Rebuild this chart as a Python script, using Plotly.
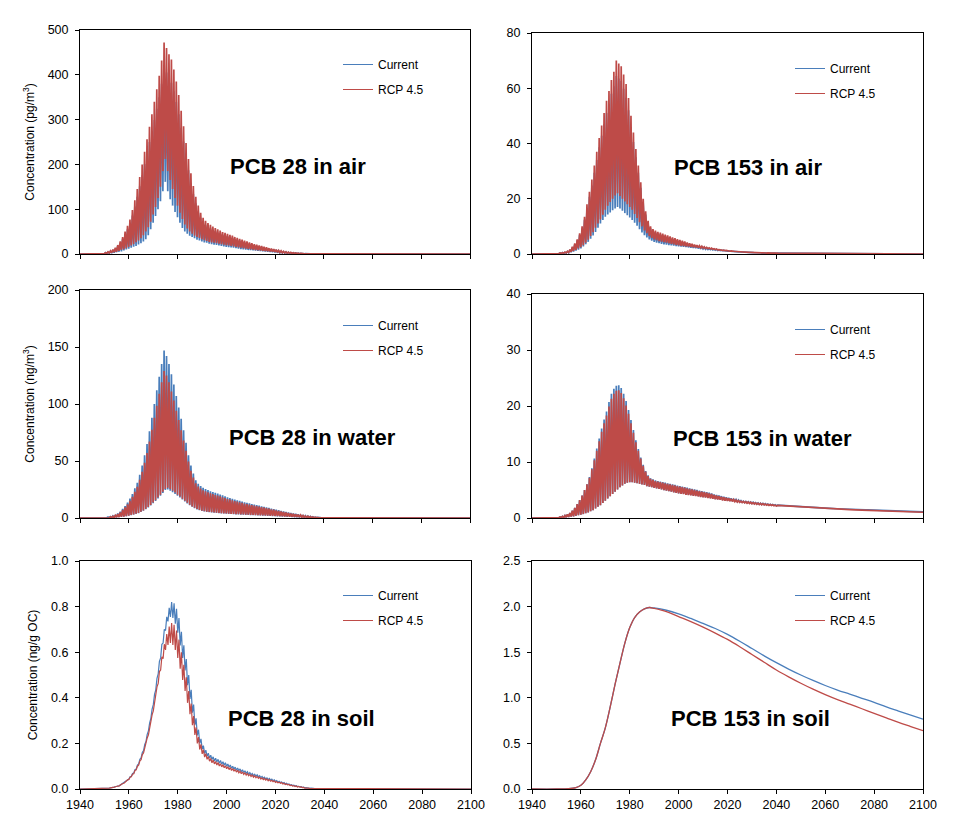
import plotly.graph_objects as go

W, H = 954, 832
BLUE = "#4A7EBB"
RED = "#BE4B48"
FONT = "Liberation Sans, Arial, sans-serif"

X_START, X_END = 1940, 2100
X_TICK_STEP = 20
BASELINE = 0.0
SERIES_NAMES = ["Current", "RCP 4.5"]

# ---------------- PCB 28 in air (pg/m3): yearly summer peaks (HI) and winter troughs (LO)
P28_AIR_START = 1948
P28_AIR_CUR_HI = [1, 2, 3, 4, 6, 9, 12, 18, 25, 34,
                  44, 55, 68, 86, 106, 128, 151, 176, 201, 225,
                  250, 275, 299, 324, 350, 380, 415, 405, 392, 382,
                  363, 339, 312, 282, 251, 218, 187, 158, 134, 113,
                  95, 81, 71, 65, 61, 57, 54, 51, 48, 46,
                  43, 41, 40, 38, 36, 33, 32, 30, 28, 26,
                  25, 23, 21, 19, 18, 17, 16, 14, 13, 11,
                  11, 10, 9, 7, 6, 5, 4.4, 3.5, 3, 2.6,
                  2.2, 1.8, 1.3, 0.9, 0.7, 0.4, 0.3, 0.2, 0.1]
P28_AIR_CUR_LO = [0.3, 0.5, 0.8, 1, 1.5, 2, 3, 4, 5, 6,
                  8, 10, 12, 14, 16, 18, 21, 24, 28, 33,
                  42, 55, 70, 85, 100, 118, 140, 161, 140, 122,
                  108, 94, 82, 70, 58, 50, 45, 41, 38, 35,
                  32, 30, 28, 26, 25, 23, 22, 21, 20, 19,
                  18, 17, 16, 15.5, 15, 14, 13, 12, 11, 10.5,
                  10, 9, 8.5, 8, 7.5, 7, 6.5, 6, 5.5, 5,
                  4.5, 4, 3.5, 3, 2.6, 2.2, 1.8, 1.5, 1.2, 1,
                  0.9, 0.7, 0.5, 0.4, 0.3, 0.2, 0.15, 0.1, 0.05]
P28_AIR_RCP_HI = [1, 2, 3, 5, 7, 10, 14, 20, 28, 38,
                  50, 63, 77, 98, 120, 145, 172, 200, 228, 256,
                  284, 312, 340, 368, 398, 432, 472, 460, 446, 434,
                  412, 385, 355, 320, 285, 248, 212, 180, 152, 128,
                  108, 92, 81, 74, 69, 65, 61, 58, 55, 52,
                  49, 47, 45, 43, 41, 38, 36, 34, 32, 30,
                  28, 26, 24, 22, 21, 19, 18, 16, 15, 13,
                  12, 11, 10, 8, 7, 6, 5, 4, 3.5, 3,
                  2.5, 2, 1.5, 1, 0.8, 0.5, 0.3, 0.2, 0.1]
P28_AIR_RCP_LO = [0.5, 0.8, 1, 1.5, 2, 3, 4, 5, 7, 9,
                  11, 13, 16, 19, 22, 26, 30, 35, 42, 50,
                  60, 72, 88, 105, 125, 150, 185, 212, 185, 165,
                  145, 125, 108, 92, 78, 66, 57, 50, 45, 41,
                  38, 36, 33, 31, 29, 27, 26, 25, 24, 23,
                  22, 21, 20, 19, 18, 17, 16, 15, 14, 13,
                  12, 11.5, 10.5, 10, 9, 8.5, 8, 7, 6.5, 6,
                  5.5, 5, 4.5, 3.8, 3.2, 2.7, 2.2, 1.8, 1.5, 1.3,
                  1.1, 0.9, 0.7, 0.5, 0.4, 0.3, 0.2, 0.1, 0.05]

# ---------------- PCB 153 in air (pg/m3)
P153_AIR_START = 1950
P153_AIR_CUR_HI = [0.3, 0.4, 0.5, 0.6, 0.9, 1.5, 2.4, 3.5, 4.9, 6.9,
                   9.2, 12.4, 16.5, 20.7, 24.8, 29.4, 34, 38.6, 42.8, 47,
                   51, 54.3, 58, 60.7, 64.4, 63.5, 62.6, 59.8, 56.6, 52,
                   46, 40.5, 35, 29.4, 24, 18.4, 14.3, 11, 9.2, 8.3,
                   7.8, 7.4, 7.1, 6.8, 6.5, 6.2, 5.9, 5.5, 5.3, 5,
                   4.7, 4.4, 4.1, 3.9, 3.6, 3.4, 3.1, 2.9, 2.8, 2.6,
                   2.4, 2.2, 2, 1.9, 1.8, 1.7, 1.5, 1.4, 1.3, 1.2,
                   1.1, 1, 0.95, 0.85, 0.8, 0.75, 0.7, 0.65, 0.6, 0.55,
                   0.5, 0.5, 0.45, 0.45, 0.4, 0.4, 0.35, 0.35, 0.3, 0.3,
                   0.3]
P153_AIR_CUR_LO = [0.1, 0.1, 0.15, 0.2, 0.3, 0.45, 0.65, 0.9, 1.2, 1.6,
                   2, 2.7, 3.5, 4.4, 5.5, 6.7, 8, 9.5, 11, 12.3,
                   13.5, 14.3, 15, 15.8, 16.5, 17, 16.5, 15.7, 14.8, 14,
                   13.2, 12.3, 11.3, 10.2, 9, 7.8, 6.8, 6, 5.3, 4.8,
                   4.4, 4.1, 3.9, 3.7, 3.5, 3.4, 3.2, 3.1, 3, 2.9,
                   2.8, 2.7, 2.6, 2.5, 2.4, 2.3, 2.2, 2.1, 2, 1.9,
                   1.8, 1.7, 1.65, 1.55, 1.5, 1.4, 1.3, 1.25, 1.2, 1.1,
                   1, 0.95, 0.9, 0.85, 0.8, 0.75, 0.7, 0.65, 0.6, 0.55,
                   0.5, 0.45, 0.4, 0.4, 0.35, 0.35, 0.3, 0.3, 0.3, 0.25,
                   0.25]
P153_AIR_RCP_HI = [0.3, 0.4, 0.5, 0.7, 1, 1.6, 2.6, 3.8, 5.3, 7.5,
                   10, 13.5, 18, 22.5, 27, 32, 37, 42, 46.5, 51,
                   55.5, 59, 63, 66, 70, 69, 68, 65, 61.5, 56.5,
                   50, 44, 38, 32, 26, 20, 15.5, 12, 10, 9,
                   8.5, 8, 7.7, 7.4, 7, 6.7, 6.4, 6, 5.7, 5.4,
                   5.1, 4.8, 4.5, 4.2, 3.9, 3.7, 3.4, 3.2, 3, 2.8,
                   2.6, 2.4, 2.2, 2.1, 1.9, 1.8, 1.6, 1.5, 1.4, 1.3,
                   1.2, 1.1, 1, 0.9, 0.85, 0.8, 0.75, 0.7, 0.65, 0.6,
                   0.55, 0.5, 0.5, 0.45, 0.45, 0.4, 0.4, 0.35, 0.35, 0.3,
                   0.3]
P153_AIR_RCP_LO = [0.1, 0.15, 0.2, 0.3, 0.4, 0.55, 0.8, 1.1, 1.5, 2,
                   2.5, 3.2, 4.1, 5.2, 6.5, 7.9, 9.5, 11, 12.5, 14.2,
                   16, 17.5, 18.8, 20, 21.2, 22, 21, 20, 19, 18,
                   17, 16, 14.5, 13, 11.5, 10, 8.5, 7.5, 6.5, 5.8,
                   5.3, 5, 4.7, 4.5, 4.3, 4.1, 3.9, 3.7, 3.5, 3.3,
                   3.1, 3, 2.9, 2.8, 2.7, 2.6, 2.5, 2.4, 2.3, 2.2,
                   2.1, 2, 1.9, 1.8, 1.7, 1.6, 1.5, 1.4, 1.3, 1.2,
                   1.1, 1, 0.95, 0.9, 0.85, 0.8, 0.75, 0.7, 0.65, 0.6,
                   0.55, 0.5, 0.45, 0.4, 0.4, 0.35, 0.35, 0.3, 0.3, 0.3,
                   0.25]

# ---------------- PCB 28 in water (ng/m3)
P28_WAT_START = 1950
P28_WAT_CUR_HI = [0.5, 0.8, 1.2, 1.8, 2.6, 4, 5.5, 8, 10.5, 13.5,
                  17, 21, 26, 31, 38, 46, 55, 65, 76, 88,
                  100, 112, 124, 135, 147, 142, 135, 126, 117, 107,
                  97, 87, 77, 66, 55, 46, 39, 33, 30, 28,
                  26.5, 25.5, 24.5, 23.5, 22.8, 22, 21.4, 20.6, 19.8, 19,
                  18.2, 17.5, 16.8, 16.2, 15.6, 15, 14.4, 13.8, 13.3, 12.8,
                  12.3, 11.8, 11.3, 10.8, 10.3, 9.8, 9.3, 8.8, 8.3, 7.8,
                  7.3, 6.8, 6.2, 5.7, 5.2, 4.8, 4.4, 4, 3.6, 3.2,
                  2.8, 2.4, 2, 1.6, 1.3, 1, 0.7, 0.5, 0.3, 0.2,
                  0.1]
P28_WAT_CUR_LO = [0.1, 0.15, 0.2, 0.3, 0.4, 0.6, 0.8, 1, 1.3, 1.6,
                  2, 2.5, 3, 3.6, 4.3, 5.2, 6.3, 7.6, 9.2, 11,
                  13, 15, 17.2, 19.5, 22, 24.5, 25, 24, 22.5, 21,
                  19.5, 18, 16.3, 14.5, 12.8, 11.2, 9.8, 8.6, 7.6, 6.8,
                  6.2, 5.8, 5.4, 5.1, 4.9, 4.7, 4.5, 4.3, 4.1, 3.9,
                  3.7, 3.6, 3.5, 3.3, 3.2, 3.1, 3, 2.9, 2.8, 2.7,
                  2.6, 2.5, 2.4, 2.3, 2.2, 2.1, 2, 1.9, 1.8, 1.7,
                  1.6, 1.5, 1.4, 1.3, 1.2, 1.1, 1, 0.9, 0.8, 0.7,
                  0.6, 0.5, 0.4, 0.35, 0.3, 0.25, 0.2, 0.15, 0.1, 0.05,
                  0.02]
P28_WAT_RCP_HI = [0.4, 0.7, 1.1, 1.6, 2.3, 3.5, 4.9, 7.1, 9.3, 12,
                  15, 18.5, 23, 27.3, 33.5, 40.5, 48.4, 57, 67, 77.5,
                  88, 98.5, 109, 119, 129, 125, 119, 111, 103, 94,
                  86, 77, 68, 59, 49.5, 41.5, 35.5, 30.5, 27.6, 25.8,
                  24.4, 23.5, 22.5, 21.6, 21, 20.2, 19.7, 19, 18.2, 17.5,
                  16.7, 16.1, 15.5, 14.9, 14.4, 13.8, 13.2, 12.7, 12.2, 11.8,
                  11.3, 10.9, 10.4, 9.9, 9.5, 9, 8.6, 8.1, 7.6, 7.2,
                  6.7, 6.3, 5.7, 5.2, 4.8, 4.4, 4, 3.7, 3.3, 2.9,
                  2.6, 2.2, 1.8, 1.5, 1.2, 0.9, 0.6, 0.45, 0.3, 0.2,
                  0.1]
P28_WAT_RCP_LO = [0.1, 0.15, 0.2, 0.3, 0.4, 0.6, 0.8, 1, 1.3, 1.7,
                  2.1, 2.6, 3.2, 3.8, 4.5, 5.4, 6.6, 8, 9.6, 11.5,
                  13.5, 15.6, 17.9, 20.3, 23, 25.5, 26.5, 25.5, 24, 22.3,
                  20.5, 18.8, 17, 15.2, 13.4, 11.7, 10.2, 9, 8, 7.1,
                  6.5, 6, 5.6, 5.3, 5.1, 4.9, 4.7, 4.5, 4.3, 4.1,
                  3.9, 3.8, 3.6, 3.5, 3.4, 3.3, 3.2, 3.1, 3, 2.9,
                  2.8, 2.7, 2.6, 2.5, 2.4, 2.3, 2.2, 2.1, 2, 1.9,
                  1.8, 1.7, 1.6, 1.5, 1.4, 1.3, 1.2, 1.1, 1, 0.9,
                  0.8, 0.7, 0.6, 0.5, 0.4, 0.3, 0.25, 0.2, 0.15, 0.1,
                  0.05]

# ---------------- PCB 153 in water (ng/m3)
P153_WAT_START = 1950
P153_WAT_CUR_HI = [0.1, 0.2, 0.3, 0.45, 0.65, 0.9, 1.3, 1.8, 2.5, 3.2,
                   4, 5, 6, 7.3, 8.9, 10.6, 12.4, 14.2, 16, 17.6,
                   19, 20.7, 22.2, 23.1, 23.6, 23.7, 23.2, 22.2, 20.9, 19.3,
                   17.5, 15.7, 13.9, 12.3, 10.8, 9.5, 8.4, 7.6, 7.1, 6.9,
                   6.7, 6.6, 6.5, 6.4, 6.3, 6.2, 6.1, 6, 5.9, 5.8,
                   5.7, 5.6, 5.5, 5.4, 5.3, 5.2, 5.1, 5, 4.9, 4.8,
                   4.7, 4.6, 4.5, 4.4, 4.2, 4.1, 4, 3.9, 3.8, 3.7,
                   3.6, 3.5, 3.4, 3.3, 3.2, 3.1, 3, 2.95, 2.9, 2.85,
                   2.8, 2.75, 2.7, 2.65, 2.6, 2.55, 2.5, 2.45, 2.4, 2.35,
                   2.3]
P153_WAT_CUR_LO = [0, 0.05, 0.1, 0.1, 0.15, 0.2, 0.25, 0.3, 0.4, 0.5,
                   0.6, 0.7, 0.85, 1, 1.2, 1.4, 1.7, 2, 2.3, 2.7,
                   3.1, 3.5, 3.9, 4.3, 4.7, 5.1, 5.5, 5.8, 6.1, 6.3,
                   6.4, 6.4, 6.3, 6.2, 6.1, 6, 5.9, 5.7, 5.6, 5.5,
                   5.4, 5.3, 5.2, 5.1, 5, 4.9, 4.8, 4.7, 4.6, 4.5,
                   4.4, 4.35, 4.3, 4.2, 4.15, 4.1, 4, 3.95, 3.9, 3.8,
                   3.75, 3.7, 3.6, 3.55, 3.5, 3.4, 3.35, 3.3, 3.2, 3.15,
                   3.1, 3.05, 3, 2.95, 2.9, 2.85, 2.8, 2.75, 2.7, 2.65,
                   2.6, 2.55, 2.5, 2.45, 2.4, 2.38, 2.35, 2.3, 2.28, 2.25,
                   2.2]
P153_WAT_RCP_HI = [0.1, 0.2, 0.3, 0.45, 0.65, 0.9, 1.3, 1.8, 2.5, 3.2,
                   4, 5, 6, 7.2, 8.7, 10.3, 12, 13.7, 15.4, 16.9,
                   18.3, 19.9, 21.3, 22.2, 22.7, 22.8, 22.3, 21.4, 20.1, 18.6,
                   16.9, 15.2, 13.5, 12, 10.6, 9.3, 8.3, 7.5, 7, 6.8,
                   6.6, 6.5, 6.4, 6.3, 6.2, 6.1, 6, 5.9, 5.8, 5.7,
                   5.6, 5.5, 5.4, 5.3, 5.2, 5.1, 5, 4.9, 4.8, 4.7,
                   4.6, 4.5, 4.4, 4.3, 4.1, 4, 3.9, 3.8, 3.7, 3.6,
                   3.5, 3.4, 3.3, 3.2, 3.1, 3, 2.95, 2.9, 2.85, 2.8,
                   2.75, 2.7, 2.65, 2.6, 2.55, 2.5, 2.45, 2.4, 2.35, 2.3,
                   2.25]
P153_WAT_RCP_LO = [0, 0.05, 0.1, 0.1, 0.15, 0.2, 0.25, 0.3, 0.4, 0.5,
                   0.6, 0.7, 0.85, 1, 1.2, 1.4, 1.7, 2, 2.3, 2.7,
                   3.1, 3.5, 3.9, 4.3, 4.7, 5.1, 5.5, 5.8, 6.1, 6.3,
                   6.4, 6.4, 6.3, 6.2, 6.1, 6, 5.9, 5.7, 5.6, 5.5,
                   5.4, 5.3, 5.2, 5.1, 5, 4.9, 4.8, 4.7, 4.6, 4.5,
                   4.4, 4.3, 4.25, 4.15, 4.1, 4.05, 3.95, 3.9, 3.85, 3.75,
                   3.7, 3.65, 3.55, 3.5, 3.45, 3.35, 3.3, 3.25, 3.15, 3.1,
                   3.05, 3, 2.95, 2.9, 2.85, 2.8, 2.75, 2.7, 2.65, 2.6,
                   2.55, 2.5, 2.45, 2.4, 2.35, 2.33, 2.3, 2.25, 2.23, 2.2,
                   2.15]
P153_WAT_TAIL_YEARS = [2045, 2050, 2055, 2060, 2065, 2070, 2075, 2080, 2085, 2090, 2095, 2100]
P153_WAT_TAIL_CUR = [2.15, 2.0, 1.9, 1.75, 1.65, 1.55, 1.45, 1.38, 1.3, 1.22, 1.15, 1.08]
P153_WAT_TAIL_RCP = [2.12, 1.97, 1.86, 1.72, 1.61, 1.51, 1.41, 1.33, 1.25, 1.17, 1.1, 1.03]

# ---------------- PCB 28 in soil (ng/g OC)
P28_SOIL_START = 1950
P28_SOIL_CUR_HI = [0.002, 0.003, 0.005, 0.007, 0.01, 0.013, 0.018, 0.024, 0.032, 0.042,
                   0.054, 0.068, 0.085, 0.105, 0.13, 0.16, 0.195, 0.24, 0.29, 0.35,
                   0.415, 0.485, 0.56, 0.635, 0.7, 0.755, 0.795, 0.82, 0.815, 0.79,
                   0.75, 0.69, 0.63, 0.57, 0.5, 0.435, 0.37, 0.31, 0.26, 0.22,
                   0.19, 0.17, 0.157, 0.148, 0.141, 0.135, 0.13, 0.125, 0.12, 0.115,
                   0.11, 0.105, 0.1, 0.096, 0.092, 0.088, 0.084, 0.08, 0.076, 0.072,
                   0.068, 0.065, 0.062, 0.058, 0.055, 0.052, 0.049, 0.046, 0.043, 0.04,
                   0.037, 0.034, 0.031, 0.028, 0.025, 0.022, 0.019, 0.017, 0.015, 0.012,
                   0.01, 0.008, 0.006, 0.005, 0.004, 0.003, 0.002, 0.001, 0.001, 0.0005]
P28_SOIL_CUR_LO = [0.001, 0.002, 0.004, 0.005, 0.008, 0.01, 0.014, 0.019, 0.026, 0.034,
                   0.044, 0.056, 0.07, 0.088, 0.11, 0.136, 0.168, 0.208, 0.255, 0.31,
                   0.37, 0.435, 0.505, 0.575, 0.64, 0.695, 0.735, 0.755, 0.75, 0.725,
                   0.685, 0.63, 0.575, 0.52, 0.455, 0.395, 0.335, 0.28, 0.235, 0.2,
                   0.175, 0.156, 0.144, 0.136, 0.129, 0.123, 0.118, 0.113, 0.109, 0.104,
                   0.1, 0.095, 0.091, 0.087, 0.083, 0.08, 0.076, 0.072, 0.069, 0.065,
                   0.062, 0.059, 0.056, 0.053, 0.05, 0.047, 0.044, 0.041, 0.039, 0.036,
                   0.033, 0.03, 0.028, 0.025, 0.022, 0.02, 0.017, 0.015, 0.013, 0.011,
                   0.009, 0.007, 0.005, 0.004, 0.003, 0.002, 0.002, 0.001, 0.001, 0.0005]
P28_SOIL_RCP_HI = [0.002, 0.003, 0.005, 0.007, 0.01, 0.013, 0.018, 0.024, 0.031, 0.04,
                   0.052, 0.065, 0.081, 0.1, 0.123, 0.151, 0.183, 0.224, 0.27, 0.325,
                   0.385, 0.448, 0.515, 0.58, 0.635, 0.68, 0.712, 0.728, 0.72, 0.695,
                   0.655, 0.6, 0.545, 0.49, 0.43, 0.375, 0.32, 0.27, 0.228, 0.196,
                   0.172, 0.155, 0.143, 0.134, 0.127, 0.121, 0.116, 0.111, 0.107, 0.102,
                   0.098, 0.094, 0.09, 0.086, 0.082, 0.078, 0.075, 0.071, 0.068, 0.064,
                   0.061, 0.058, 0.055, 0.052, 0.049, 0.046, 0.044, 0.041, 0.038, 0.036,
                   0.033, 0.03, 0.028, 0.025, 0.022, 0.02, 0.017, 0.015, 0.013, 0.011,
                   0.009, 0.007, 0.005, 0.004, 0.003, 0.002, 0.002, 0.001, 0.001, 0.0005]
P28_SOIL_RCP_LO = [0.001, 0.002, 0.004, 0.005, 0.008, 0.01, 0.014, 0.019, 0.025, 0.033,
                   0.042, 0.054, 0.067, 0.084, 0.105, 0.129, 0.158, 0.195, 0.238, 0.288,
                   0.343, 0.402, 0.463, 0.522, 0.572, 0.61, 0.632, 0.64, 0.632, 0.61,
                   0.575, 0.528, 0.478, 0.43, 0.378, 0.328, 0.28, 0.237, 0.2, 0.173,
                   0.154, 0.14, 0.13, 0.122, 0.115, 0.11, 0.105, 0.101, 0.097, 0.093,
                   0.089, 0.085, 0.081, 0.078, 0.074, 0.071, 0.067, 0.064, 0.061, 0.058,
                   0.055, 0.052, 0.049, 0.047, 0.044, 0.041, 0.039, 0.036, 0.034, 0.032,
                   0.029, 0.027, 0.025, 0.022, 0.02, 0.018, 0.015, 0.013, 0.011, 0.009,
                   0.008, 0.006, 0.004, 0.003, 0.003, 0.002, 0.001, 0.001, 0.001, 0.0005]

# ---------------- PCB 153 in soil (ng/g OC), smooth
P153_SOIL_YEARS = [1940, 1950, 1955, 1958, 1960, 1962, 1964, 1966, 1968, 1970,
                   1972, 1974, 1976, 1978, 1980, 1982, 1984, 1986, 1988, 1990,
                   1995, 2000, 2005, 2010, 2015, 2020, 2025, 2030, 2035, 2040,
                   2045, 2050, 2055, 2060, 2065, 2070, 2075, 2080, 2085, 2090,
                   2095, 2100]
P153_SOIL_CUR = [0, 0, 0.003, 0.015, 0.04, 0.1, 0.19, 0.32, 0.5, 0.67,
                 0.9, 1.15, 1.38, 1.6, 1.77, 1.88, 1.94, 1.975, 1.99, 1.985,
                 1.96, 1.92, 1.87, 1.815, 1.76, 1.695, 1.62, 1.54, 1.46, 1.385,
                 1.315, 1.25, 1.19, 1.135, 1.085, 1.04, 0.995, 0.95, 0.90, 0.855,
                 0.81, 0.765]
P153_SOIL_RCP = [0, 0, 0.003, 0.015, 0.04, 0.1, 0.19, 0.32, 0.5, 0.67,
                 0.9, 1.15, 1.38, 1.6, 1.77, 1.88, 1.94, 1.975, 1.99, 1.98,
                 1.945, 1.89, 1.835, 1.775, 1.71, 1.64, 1.56, 1.475, 1.39, 1.305,
                 1.23, 1.16, 1.095, 1.035, 0.98, 0.93, 0.88, 0.83, 0.78, 0.73,
                 0.685, 0.64]

Y_TITLES = ["Concentration (pg/m<sup>3</sup>)", None, "Concentration (ng/m<sup>3</sup>)", None,
            "Concentration (ng/g OC)", None]
PANEL_LABELS = ["PCB 28 in air", "PCB 153 in air", "PCB 28 in water", "PCB 153 in water",
                "PCB 28 in soil", "PCB 153 in soil"]
Y_MAX = [500, 80, 200, 40, 1.0, 2.5]
Y_DTICK = [100, 20, 50, 10, 0.2, 0.5]
Y_FORMAT = ["d", "d", "d", "d", ".1f", ".1f"]
LINE_WIDTHS = [1.7, 1.7, 1.7, 1.7, 1.2, 1.3]


def seasonal(start, lo, hi, tail_x=None, tail_y=None):
    xs, ys = [X_START], [BASELINE]
    for i, (l, h) in enumerate(zip(lo, hi)):
        xs += [start + i, start + i + 0.5]
        ys += [l, h]
    if tail_x is None:
        xs.append(X_END)
        ys.append(BASELINE)
    else:
        xs += list(tail_x)
        ys += list(tail_y)
    return xs, ys


panel_series = [
    (seasonal(P28_AIR_START, P28_AIR_CUR_LO, P28_AIR_CUR_HI),
     seasonal(P28_AIR_START, P28_AIR_RCP_LO, P28_AIR_RCP_HI)),
    (seasonal(P153_AIR_START, P153_AIR_CUR_LO, P153_AIR_CUR_HI),
     seasonal(P153_AIR_START, P153_AIR_RCP_LO, P153_AIR_RCP_HI)),
    (seasonal(P28_WAT_START, P28_WAT_CUR_LO, P28_WAT_CUR_HI),
     seasonal(P28_WAT_START, P28_WAT_RCP_LO, P28_WAT_RCP_HI)),
    (seasonal(P153_WAT_START, P153_WAT_CUR_LO, P153_WAT_CUR_HI, P153_WAT_TAIL_YEARS, P153_WAT_TAIL_CUR),
     seasonal(P153_WAT_START, P153_WAT_RCP_LO, P153_WAT_RCP_HI, P153_WAT_TAIL_YEARS, P153_WAT_TAIL_RCP)),
    (seasonal(P28_SOIL_START, P28_SOIL_CUR_LO, P28_SOIL_CUR_HI),
     seasonal(P28_SOIL_START, P28_SOIL_RCP_LO, P28_SOIL_RCP_HI)),
    ((P153_SOIL_YEARS, P153_SOIL_CUR), (P153_SOIL_YEARS, P153_SOIL_RCP)),
]

# plot-area boxes in pixels: (left, right, top, bottom)
BOXES = [(80, 470, 30, 254), (532, 923, 33, 254),
         (80, 470, 290, 518), (532, 923, 294, 518),
         (80, 471, 561, 789), (532, 923, 561, 789)]
LEGEND_POS = [(338, 50), (790, 54), (338, 311), (790, 315), (338, 581), (790, 581)]
LABEL_POS = [(298, 166), (748, 167), (312, 437), (762, 438), (301, 718), (750, 718)]

fig = go.Figure()
layout = dict(template="none", width=W, height=H, margin=dict(l=0, r=0, t=0, b=0, autoexpand=False),
              paper_bgcolor="white", plot_bgcolor="white",
              font=dict(family=FONT, size=12, color="black"), annotations=[])

for i in range(6):
    k = "" if i == 0 else str(i + 1)
    (cx, cy), (rx, ry) = panel_series[i]
    lg = "legend" + k
    smooth = (i == 5)
    for name, xs, ys, col in [(SERIES_NAMES[0], cx, cy, BLUE), (SERIES_NAMES[1], rx, ry, RED)]:
        fig.add_trace(go.Scatter(
            x=xs, y=ys, mode="lines", name=name, showlegend=False,
            line=dict(color=col, width=LINE_WIDTHS[i],
                      shape="spline" if smooth else "linear"),
            xaxis="x" + k, yaxis="y" + k, hoverinfo="skip"))
    # legend entries drawn with thin lines, as in the original
    for name, col in [(SERIES_NAMES[0], BLUE), (SERIES_NAMES[1], RED)]:
        fig.add_trace(go.Scatter(
            x=[None], y=[None], mode="lines", name=name,
            line=dict(color=col, width=1),
            xaxis="x" + k, yaxis="y" + k, legend=lg, legendgroup=name + k,
            hoverinfo="skip"))
    l, r, t, b = BOXES[i]
    layout["xaxis" + k] = dict(
        domain=[l / W, r / W], anchor="y" + k, range=[X_START, X_END],
        tickmode="linear", tick0=X_START, dtick=X_TICK_STEP,
        ticks="outside", ticklen=4, tickcolor="black", tickwidth=1,
        showline=True, linecolor="black", linewidth=1, mirror=True,
        showgrid=False, zeroline=False, showticklabels=(i >= 4), automargin=False,
        tickfont=dict(size=12.5), layer="below traces")
    ydict = dict(
        domain=[1 - b / H, 1 - t / H], anchor="x" + k, range=[0, Y_MAX[i]],
        tickmode="linear", tick0=0, dtick=Y_DTICK[i], tickformat=Y_FORMAT[i],
        ticks="outside", ticklen=4, tickcolor="black", tickwidth=1,
        showline=True, linecolor="black", linewidth=1, mirror=True,
        showgrid=False, zeroline=False, tickfont=dict(size=12.5), automargin=False,
        ticklabelstandoff=4)
    if Y_TITLES[i]:
        ydict["title"] = dict(text=Y_TITLES[i], font=dict(size=12), standoff=10)
    layout["yaxis" + k] = ydict
    lx, ly = LEGEND_POS[i]
    layout[lg] = dict(x=lx / W, y=1 - ly / H, xanchor="left", yanchor="top",
                      bgcolor="rgba(0,0,0,0)", font=dict(size=12),
                      tracegroupgap=6, itemwidth=30)
    ax, ay = LABEL_POS[i]
    layout["annotations"].append(dict(
        text="<b>" + PANEL_LABELS[i] + "</b>", x=ax / W, y=1 - ay / H,
        xref="paper", yref="paper", showarrow=False, xanchor="center", yanchor="middle",
        font=dict(size=22, family=FONT, color="black")))

fig.update_layout(**layout)
fig.write_html("out.html", config={"displayModeBar": False},
               post_script="document.body.style.margin='0';document.body.style.overflow='hidden';")
